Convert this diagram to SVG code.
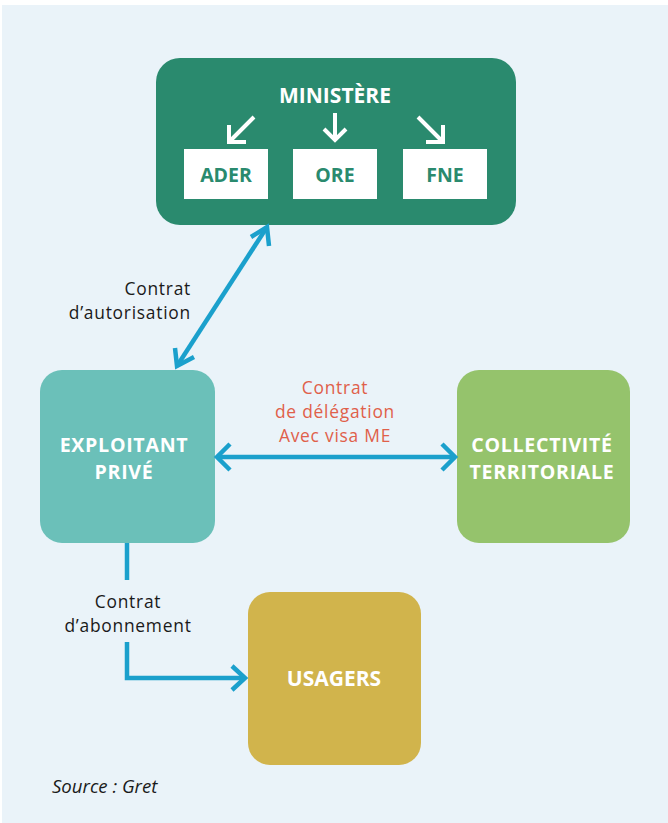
<svg xmlns="http://www.w3.org/2000/svg" width="668" height="823" viewBox="0 0 668 823">
<style>
.title{font-family:"Open Sans","Liberation Sans",sans-serif;font-weight:bold;font-size:19.6px;letter-spacing:0.7px;fill:#ffffff;text-anchor:middle}
.sub{font-family:"Open Sans","Liberation Sans",sans-serif;font-weight:bold;font-size:19.5px;fill:#2a8a6e;text-anchor:middle}
.lbl{font-family:"Open Sans","Liberation Sans",sans-serif;font-size:17.4px;letter-spacing:0.75px;fill:#1a1a1a}
.red{font-family:"Open Sans","Liberation Sans",sans-serif;font-size:17.4px;letter-spacing:0.75px;fill:#e0604a;text-anchor:middle}
.conn{fill:none;stroke:#1ba0cc;stroke-width:4.5;stroke-linecap:butt;stroke-linejoin:miter}
.warr{fill:none;stroke:#ffffff;stroke-width:4}
</style>
<rect x="2" y="5" width="666" height="818" fill="#eaf3f9"/>
<g id="ministere">
<rect x="156" y="58" width="360" height="167" rx="24" fill="#2a8a6e"/>
<text class="title" x="335" y="103" style="font-size:21px;letter-spacing:0">MINISTÈRE</text>
<path class="warr" d="M254,117 L229,142 M229,125 L229,142 L246,142"/>
<path class="warr" d="M335,113 L335,140 M324,129 L335,140 L346,129"/>
<path class="warr" d="M418,117 L443,142 M443,125 L443,142 L426,142"/>
<g id="ader"><rect x="184" y="149" width="84" height="50" fill="#ffffff"/><text class="sub" x="226" y="182">ADER</text></g>
<g id="ore"><rect x="293" y="149" width="84" height="50" fill="#ffffff"/><text class="sub" x="335" y="182">ORE</text></g>
<g id="fne"><rect x="403" y="149" width="84" height="50" fill="#ffffff"/><text class="sub" x="445" y="182">FNE</text></g>
</g>
<g id="exploitant">
<rect x="40" y="370" width="175" height="173" rx="22" fill="#6bc0b9"/>
<text class="title" x="124" y="452">EXPLOITANT</text>
<text class="title" x="124" y="479">PRIVÉ</text>
</g>
<g id="collectivite">
<rect x="457" y="370" width="173" height="173" rx="22" fill="#95c36c"/>
<text class="title" x="542" y="452">COLLECTIVITÉ</text>
<text class="title" x="542" y="479">TERRITORIALE</text>
</g>
<g id="usagers">
<rect x="248" y="592" width="173" height="173" rx="22" fill="#d1b44c"/>
<text class="title" x="334" y="686" style="font-size:21px;letter-spacing:0">USAGERS</text>
</g>
<g id="connectors">
<path class="conn" d="M267,227 L177,366"/>
<path class="conn" d="M251,237 L267,227 L269,246"/>
<path class="conn" d="M175,348 L177,366 L194,357"/>
<path class="conn" d="M218,457 L454,457"/>
<path class="conn" d="M230,444 L217,457 L230,470"/>
<path class="conn" d="M442,444 L455,457 L442,470"/>
<path class="conn" d="M127,543 L127,580"/>
<path class="conn" d="M127,642 L127,678 L244,678"/>
<path class="conn" d="M232,666 L245,678 L232,690"/>
</g>
<g id="labels">
<text class="lbl" x="191" y="295" text-anchor="end">Contrat</text>
<text class="lbl" x="191" y="319" text-anchor="end">d’autorisation</text>
<text class="red" x="335" y="394">Contrat</text>
<text class="red" x="335" y="418">de délégation</text>
<text class="red" x="335" y="442">Avec visa ME</text>
<text class="lbl" x="128" y="608" text-anchor="middle">Contrat</text>
<text class="lbl" x="128" y="632" text-anchor="middle">d’abonnement</text>
<text class="lbl" x="52" y="793" font-style="italic" style="font-size:18.6px;letter-spacing:0">Source : Gret</text>
</g>
</svg>
